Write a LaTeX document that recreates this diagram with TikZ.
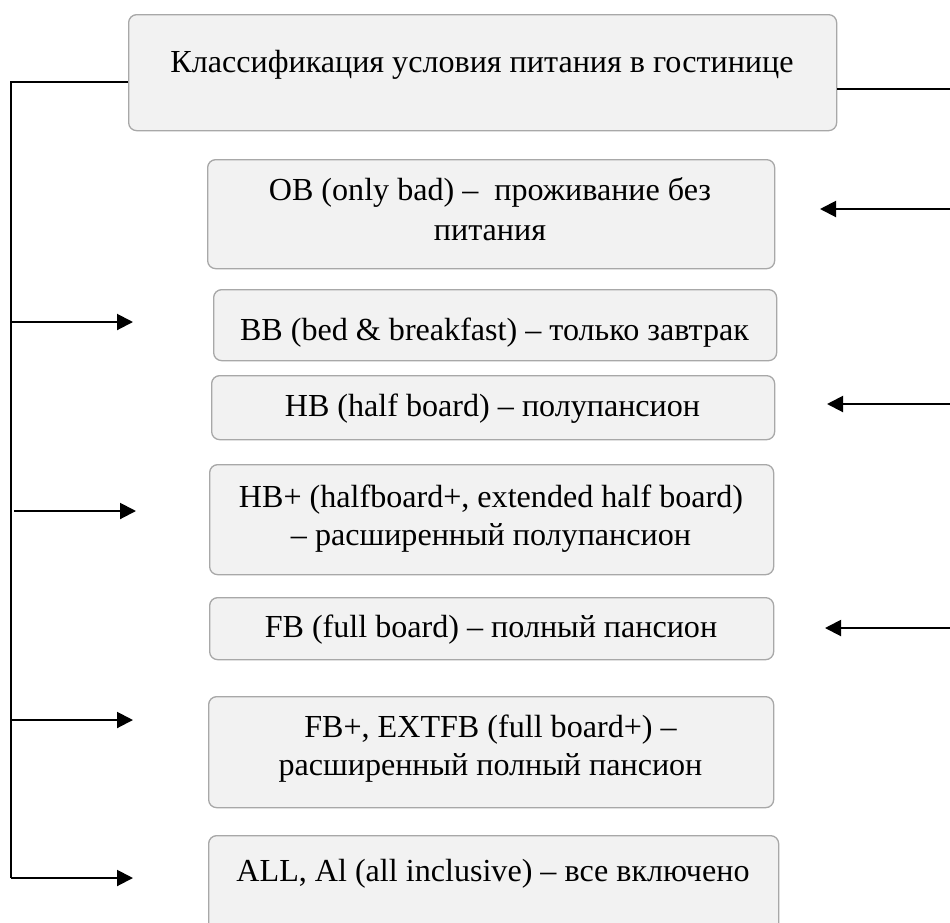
\documentclass[tikz,border=0pt]{standalone}
\usepackage{fontspec}
\setmainfont{Liberation Serif}
\usetikzlibrary{arrows.meta}
\definecolor{boxfill}{HTML}{F2F2F2}
\definecolor{boxline}{HTML}{A8A8A8}
\begin{document}
\begin{tikzpicture}[x=1pt,y=-1pt,
  box/.style={draw=boxline, fill=boxfill, line width=1.3pt, rounded corners=8pt, inner sep=0pt, anchor=north west},
  txt/.style={font=\fontsize{32.1}{39.5}\selectfont, align=center, inner sep=0pt, anchor=base},
  conn/.style={line width=2pt, black},
  arr/.style={conn, -{Triangle[length=16pt,width=16pt]}}]
\useasboundingbox (0,0) rectangle (950,922);
\clip (0,0) rectangle (950,922);
% boxes
\node[box, minimum width=708pt, minimum height=116pt] (title) at (128,14) {};
\node[box, minimum width=567pt, minimum height=109pt] (bOB) at (207,159) {};
\node[box, minimum width=563pt, minimum height=71pt] (bBB) at (213,289) {};
\node[box, minimum width=563pt, minimum height=64pt] (bHB) at (211,375) {};
\node[box, minimum width=564pt, minimum height=110pt] (bHBp) at (209,464) {};
\node[box, minimum width=564pt, minimum height=62pt] (bFB) at (209,597) {};
\node[box, minimum width=565pt, minimum height=111pt] (bFBp) at (208,696) {};
\node[box, minimum width=570pt, minimum height=115pt] (bALL) at (208,835) {};
% texts
\node[txt] (ttitle) at (482,72) {Классификация условия питания в гостинице};
\node[txt] (tOB1) at (490,200) {OB (only bad) –\ \ проживание без};
\node[txt] (tOB2) at (490,240) {питания};
\node[txt] (tBB) at (494.5,340) {BB (bed \& breakfast) – только завтрак};
\node[txt] (tHB) at (492.5,416) {HB (half board) – полупансион};
\node[txt] (tHBp1) at (491,507) {HB+ (halfboard+, extended half board)};
\node[txt] (tHBp2) at (491,545) {– расширенный полупансион};
\node[txt] (tFB) at (491,637) {FB (full board) – полный пансион};
\node[txt] (tFBp1) at (490.5,737) {FB+, EXTFB (full board+) –};
\node[txt] (tFBp2) at (490.5,775) {расширенный полный пансион};
\node[txt] (tALL) at (493,881) {ALL, Al (all inclusive) – все включено};
% left bus
\coordinate (lTop) at (11,82);
\coordinate (lBot) at (11,878);
\coordinate (aBB) at (133,322);
\coordinate (aHBp) at (136,511);
\coordinate (aFBp) at (133,720);
\coordinate (aALL) at (133,878);
\draw[conn] (title.west |- lTop) -- (lTop) -- (lBot);
\draw[arr] (lTop |- aBB) -- (aBB);
\draw[arr] (14,511) coordinate (sHBp) -- (aHBp);
\draw[arr] (lTop |- aFBp) -- (aFBp);
\draw[arr] (lBot) -- (aALL);
% right side
\coordinate (rTop) at (950,89);
\coordinate (aOB) at (820,209);
\coordinate (aHB) at (827,404);
\coordinate (aFB) at (825,628);
\draw[conn] (title.east |- rTop) -- (rTop);
\draw[arr] (rTop |- aOB) -- (aOB);
\draw[arr] (rTop |- aHB) -- (aHB);
\draw[arr] (rTop |- aFB) -- (aFB);
\end{tikzpicture}
\end{document}
